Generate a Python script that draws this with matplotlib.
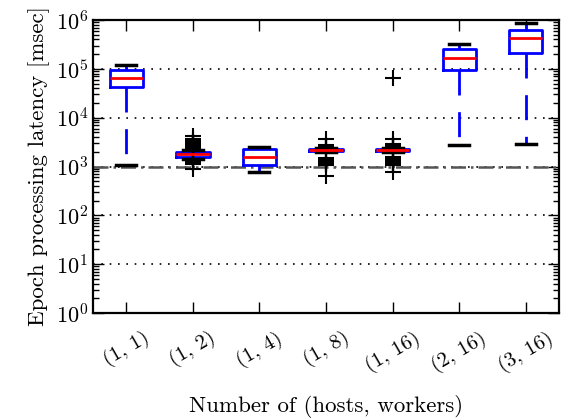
import matplotlib
matplotlib.use("Agg")
import matplotlib.pyplot as plt

plt.rcParams['font.family'] = ['cmr10', 'DejaVu Serif']
plt.rcParams['mathtext.fontset'] = 'cm'
plt.rcParams['axes.formatter.use_mathtext'] = True
plt.rcParams['axes.unicode_minus'] = False

categories = ["(1, 1)", "(1, 2)", "(1, 4)", "(1, 8)", "(1, 16)", "(2, 16)", "(3, 16)"]
medians = [66000, 1780, 1550, 2180, 2140, 170000, 420000]
q1s = [43000, 1600, 1070, 2100, 2060, 93000, 210000]
q3s = [93000, 1990, 2230, 2250, 2230, 257000, 630000]
whislos = [1070, 1450, 760, 1950, 1950, 2800, 2950]
whishis = [120000, 2200, 2500, 2400, 2400, 330000, 850000]
fliers = [
    [],
    [4300, 3600, 3400, 3200, 3000, 2900, 2800, 2700, 2600, 2500, 2400, 2300,
     1450, 1400, 1350, 1300, 1250, 1200, 1150, 900],
    [],
    [3600, 2750, 2600, 2500, 2450, 2400, 1480, 1400, 1300, 1200, 1150, 1100, 1050, 650],
    [65000, 3600, 2900, 2600, 2500, 2450, 2400, 2350, 1600, 1500, 1400, 1300,
     1250, 1200, 1150, 1100, 1050, 780],
    [],
    [],
]
reference_line = 1000

stats = []
for i, name in enumerate(categories):
    stats.append(dict(label=name, med=medians[i], q1=q1s[i], q3=q3s[i],
                      whislo=whislos[i], whishi=whishis[i], fliers=fliers[i]))

fig = plt.figure(figsize=(5.63, 4.19), dpi=100)
ax = fig.add_axes([93/563, 1-313/419, (559-93)/563, (313-20)/419])

ax.axhline(reference_line, color='#555555', ls=(0, (6, 2, 1, 2)), lw=1.8, zorder=1)
ax.set_yscale('log')
ax.set_ylim(1, 1e6)
ax.bxp(stats, positions=range(1, len(categories)+1), widths=0.5, capwidths=0.3,
       boxprops=dict(color='blue', lw=2),
       medianprops=dict(color='red', lw=2),
       whiskerprops=dict(color='blue', lw=2, ls=(0, (9, 6))),
       capprops=dict(color='black', lw=2.5),
       flierprops=dict(marker='+', markeredgecolor='black', markersize=11,
                       markeredgewidth=1.5, linestyle='none'))
ax.set_xlim(0.5, len(categories) + 0.5)
ax.set_xticks(range(1, len(categories)+1))
ax.set_xticklabels(categories, rotation=30, fontsize=15)
ax.yaxis.grid(True, which='major', color='black', ls=(0, (1, 4)), lw=1.2)
ax.set_axisbelow(True)

ax.tick_params(axis='both', which='major', direction='in', length=8, width=1,
               top=True, right=True, labelsize=16)
ax.tick_params(axis='x', which='major', labelsize=15, pad=11)
ax.tick_params(axis='y', which='minor', direction='in', length=4, width=1,
               left=True, right=True)
for s in ax.spines.values():
    s.set_linewidth(1.6)

ax.set_ylabel("Epoch processing latency [msec]", fontsize=16.5)
ax.set_xlabel("Number of (hosts, workers)", fontsize=16.5, labelpad=14)

fig.savefig("out.png", dpi=100)
